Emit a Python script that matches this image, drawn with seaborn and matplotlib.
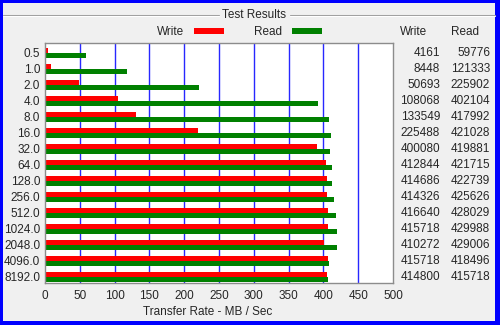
import matplotlib
matplotlib.use("Agg")
import matplotlib.pyplot as plt
import matplotlib.transforms as mtransforms
from matplotlib.patches import Rectangle
from matplotlib.lines import Line2D
import seaborn as sns
import pandas as pd

# ---- data ----
sizes = ["0.5", "1.0", "2.0", "4.0", "8.0", "16.0", "32.0", "64.0", "128.0",
         "256.0", "512.0", "1024.0", "2048.0", "4096.0", "8192.0"]
write_kb = [4161, 8448, 50693, 108068, 133549, 225488, 400080, 412844, 414686,
            414326, 416640, 415718, 410272, 415718, 414800]
read_kb = [59776, 121333, 225902, 402104, 417992, 421028, 419881, 421715, 422739,
           425626, 428029, 429988, 429006, 418496, 415718]
x_ticks = [0, 50, 100, 150, 200, 250, 300, 350, 400, 450, 500]

sns.set_style("white")
plt.rcParams["font.family"] = ["Liberation Sans", "DejaVu Sans"]
FS = 8.5

df = pd.DataFrame({
    "size": sizes * 2,
    "rate": [v / 1024 for v in write_kb] + [v / 1024 for v in read_kb],
    "test": ["Write"] * len(sizes) + ["Read"] * len(sizes),
})

W, H = 500, 325
fig = plt.figure(figsize=(W / 100, H / 100), dpi=100, facecolor="#F0F0F0")
ax = fig.add_axes([45 / W, 1 - 283 / H, (393 - 45) / W, (283 - 43) / H])
ax.set_facecolor("white")

sns.barplot(data=df, y="size", x="rate", hue="test", order=sizes,
            hue_order=["Write", "Read"], orient="h",
            palette={"Write": "#FF0000", "Read": "#008000"},
            width=0.62, saturation=1, linewidth=0, errorbar=None, ax=ax, zorder=3)

ax.set_xlim(0, 500)
ax.set_ylim(len(sizes) - 0.6, -0.6)
ax.set_xticks(x_ticks)
ax.set_xticklabels([str(t) for t in x_ticks], fontsize=FS)
ax.tick_params(axis="x", length=0, pad=5)
ax.tick_params(axis="y", length=0, pad=3.5, labelsize=FS)
ax.set_ylabel("")
for t in x_ticks[1:-1]:
    ax.axvline(t, color="#2828FF", lw=1.0, zorder=1)
for s in ax.spines.values():
    s.set_color("#8C8C8C")
    s.set_linewidth(1.0)
    s.set_zorder(5)

ax.set_xlabel("Transfer Rate - MB / Sec", fontsize=FS)
ax.xaxis.label.set_verticalalignment("center")
ax.xaxis.set_label_coords((207.5 - 45) / 348, (283 - 312) / 240)

sns.move_legend(ax, "center", bbox_to_anchor=(239.5 / W, 1 - 32 / H),
                bbox_transform=fig.transFigure, ncol=2, markerfirst=False,
                frameon=False, title=None, handlelength=2.54, handleheight=0.42,
                handletextpad=0.85, columnspacing=2.54, fontsize=FS)

# right table
tr = mtransforms.blended_transform_factory(fig.transFigure, ax.transData)
fig.text(414 / W, 1 - 32 / H, "Write", ha="center", va="center", fontsize=FS)
fig.text(464.5 / W, 1 - 32 / H, "Read", ha="center", va="center", fontsize=FS)
for i, (wv, rv) in enumerate(zip(write_kb, read_kb)):
    ax.text(440 / W, i, str(wv), transform=tr, ha="right", va="center",
            fontsize=FS, clip_on=False)
    ax.text(490 / W, i, str(rv), transform=tr, ha="right", va="center",
            fontsize=FS, clip_on=False)

# group box title line (etched)
ytl = 1 - 14.5 / H
ytl2 = 1 - 15.5 / H
for y0, c in ((ytl, "#A0A0A0"), (ytl2, "#FFFFFF")):
    fig.add_artist(Line2D([3 / W, 219 / W], [y0, y0], color=c, lw=0.75,
                          transform=fig.transFigure))
    fig.add_artist(Line2D([290 / W, 495 / W], [y0, y0], color=c, lw=0.75,
                          transform=fig.transFigure))
fig.text(254.5 / W, 1 - 15 / H, "Test Results", ha="center", va="center", fontsize=FS)

# blue window border
blue = "#0000FF"
for (x0, y0, w, h) in ((0, 0, 3, H), (0, 0, W, 3), (495, 0, 5, H), (0, 321, W, 4)):
    fig.add_artist(Rectangle((x0 / W, 1 - (y0 + h) / H), w / W, h / H,
                             transform=fig.transFigure, facecolor=blue,
                             edgecolor="none"))

fig.savefig("out.png", dpi=100, facecolor=fig.get_facecolor())
